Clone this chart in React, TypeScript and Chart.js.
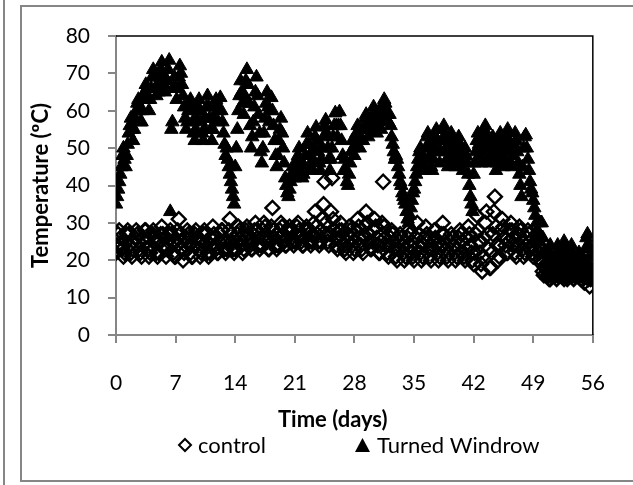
import React, { useEffect, useRef } from "react";
import { Chart, registerables } from "chart.js";

Chart.register(...registerables);

// Readings taken every 3 hours (8 per day), day 0 to day 56
const SAMPLES_PER_DAY = 8;

const turnedWindrow: number[] = [
  35, 37, 39, 41, 43, 45, 48, 50, // d0
  47, 45, 48, 51, 54, 56, 58, 55, // d1
  52, 55, 58, 60, 62, 63, 60, 57, // d2
  57, 60, 63, 65, 67, 66, 63, 60, // d3
  63, 66, 69, 71, 69, 66, 64, 66, // d4
  65, 68, 71, 73, 70, 67, 65, 68, // d5
  68, 71, 73.5, 33, 55, 57, 66, 69, // d6
  66, 63, 66, 69, 72, 70, 67, 64, // d7
  61, 58, 55, 57, 60, 62, 63, 60, // d8
  57, 54, 52, 55, 58, 61, 63, 60, // d9
  57, 54, 52, 55, 58, 61, 64, 61, // d10
  58, 55, 52, 55, 58, 61, 63, 60, // d11
  57, 60, 63.5, 60, 57, 54, 51, 48, // d12
  50, 47, 45, 43, 41, 39, 37, 35, // d13
  45, 50, 55, 60, 64, 68, 65, 62, // d14
  59, 64, 68, 71, 67, 62, 56, 50, // d15
  53, 57, 61, 65, 69, 64, 59, 54, // d16
  49, 46, 50, 54, 58, 62, 65, 61, // d17
  57, 60, 63.5, 60, 56, 52, 48, 45, // d18
  48, 52, 55, 58, 54, 50, 46, 42, // d19
  40, 38, 37, 39, 41, 43, 45, 43, // d20
  42, 44, 46, 48, 50, 47, 44, 42, // d21
  43, 45, 48, 51, 54, 51, 48, 45, // d22
  44, 47, 50, 53, 55.6, 52, 49, 46, // d23
  44, 47, 50, 53, 56, 57.5, 54, 50, // d24
  47, 44, 47, 50, 53, 56, 59.4, 56, // d25
  53, 56, 59.7, 56, 52, 48, 44, 47, // d26
  44, 41, 40, 43, 46, 49, 52, 50, // d27
  48, 51, 54, 56, 53, 50, 52, 55, // d28
  52, 55, 58, 59, 56, 53, 55, 58, // d29
  55, 58, 61, 59, 56, 54, 57, 60, // d30
  58, 55, 58, 61, 63, 62, 60, 59, // d31
  57, 59, 56, 53, 51, 49, 47, 48, // d32
  47, 45, 43, 41, 40, 38, 37, 36, // d33
  35, 33, 31, 30, 32, 34, 36, 38, // d34
  39, 41, 43, 45, 47, 49, 50, 48, // d35
  46, 44, 47, 50, 53, 54, 51, 48, // d36
  45, 44, 47, 50, 53, 55, 52, 49, // d37
  46, 49, 52, 55, 56, 53, 50, 47, // d38
  45, 48, 51, 54, 52, 49, 46, 45, // d39
  47, 50, 53, 51, 48, 45, 44, 47, // d40
  50, 48, 46, 43, 40, 37, 35, 33, // d41
  43, 46, 49, 52, 54, 51, 48, 46, // d42
  49, 52, 55, 56, 53, 50, 47, 46, // d43
  48, 51, 53, 50, 47, 44, 46, 49, // d44
  52, 54, 51, 48, 45, 47, 50, 53, // d45
  55, 52, 49, 46, 45, 48, 51, 54, // d46
  52, 49, 46, 43, 40, 37, 45, 50, // d47
  53, 53.5, 50, 47, 44, 41, 39, 38, // d48
  36, 34, 32, 30, 28, 26, 25, 30, // d49
  30, 26, 22, 19, 16, 18, 20, 22, // d50
  24, 21, 18, 15, 17, 19, 22, 24, // d51
  21, 18, 16, 19, 22, 25, 23, 20, // d52
  17, 15, 18, 21, 24, 22, 19, 16, // d53
  15, 17, 19, 22, 20, 17, 15, 17, // d54
  20, 23, 26, 27, 24, 21, 18, 15, // d55
  22, // d56
];

const control: number[] = [
  22, 24, 27, 28, 26, 24, 23, 21, // d0
  22, 25, 27, 28, 27, 24, 22, 21, // d1
  23, 25, 26, 28, 27, 25, 23, 22, // d2
  21, 24, 26, 28, 28, 25, 23, 21, // d3
  22, 24, 27, 28, 26, 25, 22, 21, // d4
  22, 25, 27, 29, 27, 24, 23, 21, // d5
  23, 25, 27, 28, 27, 25, 22, 21, // d6
  21, 24, 28, 31, 27, 25, 23, 20, // d7
  22, 24, 26, 28, 27, 24, 22, 21, // d8
  21, 24, 27, 28, 26, 25, 23, 21, // d9
  22, 25, 27, 28, 27, 25, 22, 21, // d10
  22, 24, 26, 29, 27, 24, 23, 22, // d11
  22, 25, 27, 28, 28, 25, 23, 22, // d12
  23, 25, 28, 31, 27, 25, 23, 22, // d13
  23, 25, 27, 29, 28, 26, 24, 22, // d14
  23, 26, 28, 29, 27, 25, 24, 23, // d15
  23, 25, 28, 30, 28, 26, 24, 23, // d16
  24, 26, 28, 30, 29, 26, 25, 23, // d17
  23, 26, 29, 34, 28, 26, 24, 23, // d18
  24, 26, 28, 30, 29, 27, 25, 24, // d19
  24, 26, 28, 29, 28, 26, 25, 24, // d20
  25, 27, 29, 30, 28, 26, 25, 24, // d21
  24, 26, 28, 29, 28, 27, 25, 24, // d22
  25, 27, 30, 33, 29, 27, 25, 24, // d23
  25, 28, 31, 35, 41, 30, 27, 25, // d24
  24, 27, 33, 42, 31, 28, 26, 24, // d25
  23, 26, 28, 30, 28, 26, 24, 23, // d26
  22, 25, 27, 29, 28, 26, 24, 22, // d27
  23, 25, 28, 31, 29, 26, 24, 23, // d28
  22, 26, 29, 33, 30, 27, 25, 23, // d29
  23, 25, 28, 31, 29, 26, 24, 22, // d30
  22, 25, 30, 41, 29, 26, 24, 22, // d31
  21, 24, 26, 28, 27, 25, 23, 21, // d32
  20, 23, 25, 27, 26, 24, 22, 20, // d33
  21, 23, 26, 28, 27, 24, 22, 21, // d34
  20, 23, 26, 30, 27, 24, 22, 20, // d35
  21, 24, 26, 29, 27, 25, 23, 21, // d36
  20, 23, 25, 28, 26, 24, 22, 20, // d37
  21, 24, 27, 30, 27, 25, 23, 21, // d38
  20, 22, 25, 27, 26, 24, 22, 20, // d39
  21, 23, 26, 28, 27, 25, 22, 21, // d40
  20, 23, 26, 29, 27, 24, 22, 20, // d41
  19, 22, 27, 32, 28, 25, 22, 19, // d42
  17, 21, 26, 30, 33, 27, 23, 18, // d43
  18, 22, 27, 33, 37, 29, 24, 20, // d44
  21, 24, 28, 31, 29, 26, 24, 22, // d45
  22, 25, 28, 30, 28, 26, 24, 22, // d46
  21, 24, 27, 29, 28, 25, 23, 21, // d47
  22, 24, 26, 28, 27, 25, 23, 22, // d48
  21, 23, 25, 27, 26, 24, 22, 20, // d49
  19, 17, 16, 18, 19, 17, 16, 15, // d50
  15, 17, 19, 20, 18, 16, 15, 16, // d51
  16, 18, 19, 17, 16, 15, 16, 18, // d52
  15, 17, 19, 20, 18, 16, 15, 16, // d53
  16, 18, 19, 17, 16, 15, 16, 17, // d54
  14, 16, 18, 17, 15, 13, 15, 17, // d55
  15, // d56
];

const seriesNames = ["control", "Turned Windrow"];
const xTicks = [0, 7, 14, 21, 28, 35, 42, 49, 56];
const yTicks = [0, 10, 20, 30, 40, 50, 60, 70, 80];
const xTitle = "Time (days)";
const yTitle = "Temperature (\u00BAC)";

const FONT = "Lato, 'Open Sans', sans-serif";
const GRAY = "#868686";

function toPoints(vals: number[]) {
  return vals.map((v, i) => ({ x: i / SAMPLES_PER_DAY, y: v }));
}

const decorPlugin = {
  id: "decor",
  beforeDraw(chart: any) {
    const ctx = chart.ctx as CanvasRenderingContext2D;
    ctx.save();
    ctx.fillStyle = "#fff";
    ctx.fillRect(0, 0, chart.width, chart.height);
    ctx.strokeStyle = GRAY;
    ctx.lineWidth = 2;
    ctx.beginPath();
    ctx.moveTo(4, 0);
    ctx.lineTo(4, chart.height);
    ctx.stroke();
    ctx.strokeRect(21, 6, 700, 475);
    ctx.restore();
  },
  beforeDatasetsDraw(chart: any) {
    const ctx = chart.ctx as CanvasRenderingContext2D;
    const { left, top, right, bottom } = chart.chartArea;
    ctx.save();
    ctx.strokeStyle = "#000";
    ctx.lineWidth = 1.5;
    ctx.beginPath();
    ctx.moveTo(left, top);
    ctx.lineTo(right, top);
    ctx.lineTo(right, bottom);
    ctx.stroke();
    ctx.restore();
  },
  afterDraw(chart: any) {
    const ctx = chart.ctx as CanvasRenderingContext2D;
    ctx.save();
    ctx.fillStyle = "#000";
    ctx.textBaseline = "middle";
    ctx.textAlign = "left";
    // x axis title
    ctx.font = `bold 22px ${FONT}`;
    ctx.fillText(xTitle, 278, 420);
    // legend
    ctx.font = `22px ${FONT}`;
    ctx.strokeStyle = "#000";
    ctx.lineWidth = 2;
    ctx.beginPath();
    ctx.moveTo(185, 439);
    ctx.lineTo(191, 445);
    ctx.lineTo(185, 451);
    ctx.lineTo(179, 445);
    ctx.closePath();
    ctx.stroke();
    ctx.fillText(seriesNames[0], 198, 446);
    ctx.beginPath();
    ctx.moveTo(362.5, 438);
    ctx.lineTo(370, 452);
    ctx.lineTo(355, 452);
    ctx.closePath();
    ctx.fill();
    ctx.fillText(seriesNames[1], 377, 446);
    ctx.restore();
  },
};

export default function App() {
  const ref = useRef<HTMLCanvasElement | null>(null);
  useEffect(() => {
    document.body.style.margin = "0";
    const canvas = ref.current;
    if (!canvas) return;
    const chart = new Chart(canvas, {
      type: "scatter",
      data: {
        datasets: [
          {
            label: seriesNames[0],
            data: toPoints(control),
            pointStyle: "rectRot",
            pointRadius: 7,
            borderColor: "#000",
            backgroundColor: "rgba(0,0,0,0)",
            pointBorderWidth: 2.4,
            showLine: false,
          },
          {
            label: seriesNames[1],
            data: toPoints(turnedWindrow),
            pointStyle: "triangle",
            pointRadius: 7.8,
            borderColor: "#000",
            backgroundColor: "#000",
            pointBorderWidth: 1,
            showLine: false,
          },
        ],
      },
      options: {
        responsive: false,
        animation: false,
        devicePixelRatio: 1,
        layout: { padding: { left: 0, top: 36, right: 32, bottom: 0 } },
        plugins: {
          legend: { display: false },
          tooltip: { enabled: false },
        },
        scales: {
          x: {
            type: "linear",
            min: 0,
            max: 56,
            afterFit: (s: any) => {
              s.height = 150;
            },
            afterBuildTicks: (s: any) => {
              s.ticks = xTicks.map((v) => ({ value: v }));
            },
            ticks: {
              padding: 28,
              color: "#000",
              font: { family: FONT, size: 21 },
              maxRotation: 0,
              autoSkip: false,
            },
            grid: {
              drawOnChartArea: false,
              drawTicks: true,
              tickLength: 8,
              color: GRAY,
              lineWidth: 2,
            },
            border: { display: true, color: GRAY, width: 2 },
            title: { display: false },
          },
          y: {
            type: "linear",
            min: 0,
            max: 80,
            afterFit: (s: any) => {
              s.width = 116;
            },
            afterBuildTicks: (s: any) => {
              s.ticks = yTicks.map((v) => ({ value: v }));
            },
            ticks: {
              padding: 18,
              color: "#000",
              font: { family: FONT, size: 21 },
              autoSkip: false,
            },
            grid: {
              drawOnChartArea: false,
              drawTicks: true,
              tickLength: 8,
              color: GRAY,
              lineWidth: 2,
            },
            border: { display: true, color: GRAY, width: 2 },
            title: {
              display: true,
              text: yTitle,
              color: "#000",
              font: { family: FONT, size: 22, weight: "bold" },
              padding: { top: 28, bottom: 0 },
            },
          },
        },
      },
      plugins: [decorPlugin],
    });
    return () => chart.destroy();
  }, []);
  return (
    <div style={{ position: "absolute", left: 0, top: 0, width: 633, height: 485 }}>
      <canvas ref={ref} width={633} height={485} style={{ display: "block" }} />
    </div>
  );
}
